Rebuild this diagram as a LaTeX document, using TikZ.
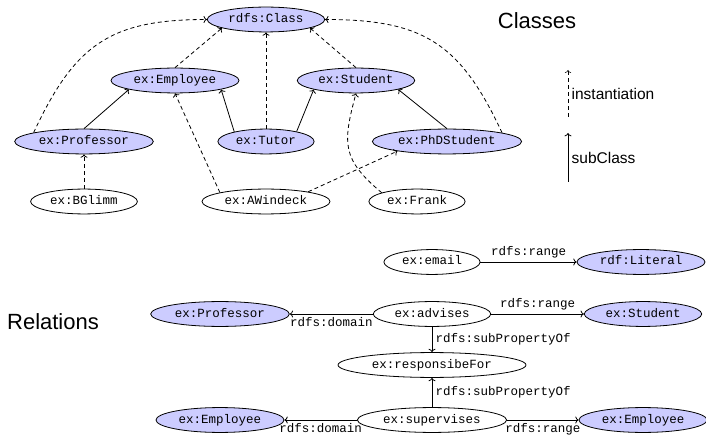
\documentclass[tikz,border=0pt]{standalone}
\usepackage{fontspec}
\setsansfont{Liberation Sans}
\setmonofont{Liberation Mono}
\usetikzlibrary {arrows.meta, positioning, shapes.geometric}

\begin{document}
\begin{tikzpicture}[
        x=1pt, y=1pt, on grid, node distance=60pt, line width=0.8pt, >={To},
        every node/.style={font=\ttfamily\fontsize{12.5}{14}\selectfont},
        cls/.style={ellipse, draw, fill=blue!20, inner xsep=4pt, inner ysep=2.8pt,
          text height=9pt, text depth=3pt},
        res/.style={cls, fill=white},
        inst/.style={->, dash pattern=on 4pt off 3pt},
        title/.style={font=\sffamily\fontsize{22}{26}\selectfont},
        legend/.style={font=\sffamily\fontsize{15.5}{18}\selectfont}
        ]
        \useasboundingbox (0,0) rectangle (706,-435);

        % classes
        \node[cls]  (rdfsclass)  at (266,-19.5)                             {rdfs:Class};
        \node[cls]  (employee)   [below left=61pt and 91pt of rdfsclass]    {ex:Employee};
        \node[cls]  (student)    [below right=61pt and 90pt of rdfsclass]   {ex:Student};
        \node[cls]  (professor)  [below left=61pt and 91pt of employee]     {ex:Professor};
        \node[cls]  (tutor)      [below right=61pt and 91pt of employee]    {ex:Tutor};
        \node[cls]  (phdstudent) [below right=61pt and 91pt of student]     {ex:PhDStudent};
        \node[res]  (bglimm)     [below=of professor]                       {ex:BGlimm};
        \node[res]  (awindeck)   [below=of tutor]                           {ex:AWindeck};
        \node[res]  (frank)      [below right=60pt and 151pt of tutor]      {ex:Frank};

        \path[->] (professor.north) edge (employee.191)
        (tutor.163) edge (employee.349)
        (tutor.18) edge (student.192)
        (phdstudent.north) edge (student.348);

        \path[inst] (employee.north) edge (rdfsclass.191)
        (tutor.north) edge (rdfsclass.south)
        (student.north) edge (rdfsclass.349)
        (bglimm.north) edge (professor.south)
        (awindeck.169) edge (employee.south)
        (awindeck.13) edge (phdstudent.191)
        (professor.170) edge [out=65, in=180, looseness=1.2] (rdfsclass.west)
        (phdstudent.9) edge [out=115, in=0, looseness=1.2] (rdfsclass.east)
        (frank.166) edge [out=140, in=255, looseness=1.3] (student.south);

        % legend
        \node[title] (classes) at (537,-21) {Classes};
        \coordinate (instfrom) at (568,-117);
        \coordinate (instto) at (568,-70);
        \coordinate (subfrom) at (568,-182);
        \coordinate (subto) at (568,-133);
        \draw[inst, line width=0.6pt] (instfrom) -- node[legend, right] {instantiation} (instto);
        \draw[->] (subfrom) -- node[legend, right] {subClass} (subto);

        % relations
        \node[title] (relations) at (53,-322) {Relations};
        \node[res]  (email)       at (432,-262)                       {ex:email};
        \node[cls]  (literal)     [right=209pt of email]              {rdf:Literal};
        \node[res]  (advises)     [below=52pt of email]               {ex:advises};
        \node[cls]  (studentr)    [right=211pt of advises]            {ex:Student};
        \node[cls]  (professorr)  [left=212pt of advises]             {ex:Professor};
        \node[res, minimum width=188pt] (responsible) [below=51pt of advises] {ex:responsibeFor};
        \node[res]  (supervises)  [below=55pt of responsible]         {ex:supervises};
        \node[cls]  (employeer)   [right=211pt of supervises]         {ex:Employee};
        \node[cls]  (employeel)   [left=212pt of supervises]          {ex:Employee};

        \path[->] (email) edge node [above] {rdfs:range} (literal)
        (advises) edge node [above] {rdfs:range} (studentr)
        (advises) edge node [below] {rdfs:domain} (professorr)
        (advises) edge node [right] {rdfs:subPropertyOf} (responsible)
        (supervises) edge node [right] {rdfs:subPropertyOf} (responsible)
        (supervises) edge node [below] {rdfs:domain} (employeel)
        (supervises) edge node [below] {rdfs:range} (employeer);
      \end{tikzpicture}
\end{document}
